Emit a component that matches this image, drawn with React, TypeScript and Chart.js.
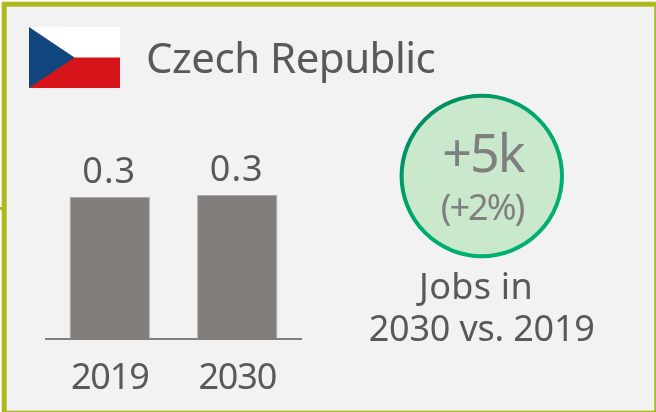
import { useEffect, useRef } from "react";
import { Chart, registerables } from "chart.js";

Chart.register(...registerables);

const FONT = '"Noto Sans"';
const categories = ["2019", "2030"];
const jobs = [0.295, 0.299];
const valueLabels = ["0.3", "0.3"];
const countryName = "Czech Republic";
const deltaMain = "+5k";
const deltaPercent = "(+2%)";
const captionLines = ["Jobs in", "2030 vs. 2019"];

type T = { s: string; x: number; y: number; size: number; color: string; ls?: number; align?: CanvasTextAlign };

function put(ctx: CanvasRenderingContext2D, t: T) {
  ctx.save();
  ctx.font = `${t.size}px ${FONT}`;
  ctx.fillStyle = t.color;
  ctx.textAlign = t.align ?? "center";
  ctx.textBaseline = "alphabetic";
  (ctx as any).letterSpacing = `${t.ls ?? 0}px`;
  ctx.fillText(t.s, t.x, t.y);
  ctx.restore();
}

const backdrop = {
  id: "backdrop",
  beforeDraw(chart: Chart) {
    const ctx = chart.ctx;
    ctx.save();
    ctx.fillStyle = "#f2f2f2";
    ctx.fillRect(4, 4, 652, 408);
    ctx.strokeStyle = "#aeb81e";
    ctx.lineWidth = 5;
    ctx.strokeRect(4.2, 4.2, 652.5, 409);
    ctx.fillStyle = "#aeb81e";
    ctx.fillRect(0, 207, 3, 3);

    // flag
    ctx.fillStyle = "#ffffff";
    ctx.fillRect(29, 27, 91, 30.5);
    ctx.fillStyle = "#d7141a";
    ctx.fillRect(29, 57.5, 91, 30.5);
    ctx.fillStyle = "#11457e";
    ctx.beginPath();
    ctx.moveTo(29, 27);
    ctx.lineTo(74.5, 57.5);
    ctx.lineTo(29, 88);
    ctx.closePath();
    ctx.fill();

    // delta badge
    const g = ctx.createLinearGradient(420, 110, 540, 240);
    g.addColorStop(0, "#008a60");
    g.addColorStop(0.45, "#00aa6c");
    g.addColorStop(1, "#00b26f");
    ctx.beginPath();
    ctx.arc(481.8, 176, 80.2, 0, Math.PI * 2);
    ctx.fillStyle = "#c9e8cc";
    ctx.fill();
    ctx.strokeStyle = g;
    ctx.lineWidth = 4;
    ctx.stroke();
    ctx.restore();
    // tick labels are slightly condensed to the reference's width
    (ctx as any).letterSpacing = "-1.2px";
  },
};

const labels = {
  id: "labels",
  afterDraw(chart: Chart) {
    const ctx = chart.ctx;
    const meta = chart.getDatasetMeta(0);
    meta.data.forEach((bar: any, i: number) => {
      put(ctx, { s: valueLabels[i], x: bar.x - 0.5, y: bar.y - 13.5, size: 36, color: "#595959", ls: 1 });
    });
    put(ctx, { s: countryName, x: 146, y: 73, size: 42, color: "#595959", align: "left", ls: -0.5 });
    put(ctx, { s: deltaMain, x: 483, y: 172, size: 52, color: "#7f7f7f", ls: -2 });
    put(ctx, { s: deltaPercent, x: 482, y: 220, size: 36, color: "#7f7f7f", ls: -2 });
    put(ctx, { s: captionLines[0], x: 476, y: 299, size: 36, color: "#595959", ls: 0.3 });
    put(ctx, { s: captionLines[1], x: 481.7, y: 341, size: 36, color: "#595959", ls: -0.2 });
    (ctx as any).letterSpacing = "0px";
  },
};

export default function App() {
  const ref = useRef<HTMLCanvasElement>(null);
  useEffect(() => {
    const chart = new Chart(ref.current!, {
      type: "bar",
      data: {
        labels: categories,
        datasets: [
          {
            data: jobs,
            backgroundColor: "#827d7b",
            borderColor: "#a9a6a4",
            borderWidth: { top: 1, left: 1, right: 1, bottom: 0 },
            barPercentage: 0.63,
            categoryPercentage: 1,
          },
        ],
      },
      options: {
        responsive: false,
        animation: false,
        layout: { padding: { left: 46, right: 355, top: 98, bottom: 0 } },
        plugins: { legend: { display: false }, tooltip: { enabled: false } },
        scales: {
          x: {
            grid: { display: false, drawTicks: false },
            border: { display: true, color: "#7f7f7f", width: 2 },
            ticks: { color: "#595959", font: { family: FONT, size: 36 }, padding: 18, maxRotation: 0 },
            afterFit(scale: any) {
              scale.height = 73;
            },
          },
          y: { display: false, min: 0, max: 0.5 },
        },
      },
      plugins: [backdrop, labels],
    });
    return () => chart.destroy();
  }, []);
  return <canvas ref={ref} width={656} height={412} style={{ position: "fixed", left: 0, top: 0, width: 656, height: 412 }} />;
}
